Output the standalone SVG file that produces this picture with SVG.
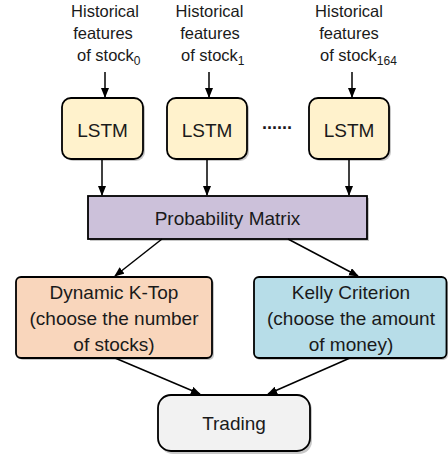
<svg xmlns="http://www.w3.org/2000/svg" width="448" height="455" viewBox="0 0 448 455">
<style>
text{font-family:"Liberation Sans",Arial,sans-serif;fill:#1a1a1a}
.in{font-size:16.5px}
.lbl{font-size:19px;text-anchor:middle}
.box{stroke:#000;stroke-width:1.8}
.shd{fill:#9a9a9a;opacity:0.55}
.con{stroke:#000;stroke-width:1.5;fill:none;marker-end:url(#ah)}
</style>
<defs>
<marker id="ah" markerWidth="10" markerHeight="8" refX="9" refY="4" orient="auto" markerUnits="userSpaceOnUse">
<path d="M0,0 L10,4 L0,8 Z" fill="#000"/>
</marker>
</defs>
<rect width="448" height="455" fill="#fff"/>
<g id="in0" class="in">
<text x="105" y="17" text-anchor="middle">Historical</text>
<text x="103" y="39" text-anchor="middle">features</text>
<text x="77" y="61">of stock<tspan font-size="12" dy="4">0</tspan></text>
</g>
<g id="in1" class="in">
<text x="209.5" y="17" text-anchor="middle">Historical</text>
<text x="210" y="39" text-anchor="middle">features</text>
<text x="181" y="61">of stock<tspan font-size="12" dy="4">1</tspan></text>
</g>
<g id="in2" class="in">
<text x="349" y="17" text-anchor="middle">Historical</text>
<text x="349" y="39" text-anchor="middle">features</text>
<text x="320" y="61">of stock<tspan font-size="12" dy="4">164</tspan></text>
</g>
<g id="lstm0">
<rect class="shd" x="64" y="100" width="81" height="61" rx="9"/>
<rect class="box" x="62" y="98" width="81" height="61" rx="9" fill="#FFF2CC"/>
<text class="lbl" x="102.5" y="137">LSTM</text>
</g>
<g id="lstm1">
<rect class="shd" x="169" y="100" width="80" height="61" rx="9"/>
<rect class="box" x="167" y="98" width="80" height="61" rx="9" fill="#FFF2CC"/>
<text class="lbl" x="207" y="137">LSTM</text>
</g>
<text x="277" y="134" font-size="18" text-anchor="middle" font-weight="bold" letter-spacing="-1">······</text>
<g id="lstm2">
<rect class="shd" x="311" y="100" width="80" height="61" rx="9"/>
<rect class="box" x="309" y="98" width="80" height="61" rx="9" fill="#FFF2CC"/>
<text class="lbl" x="349" y="137">LSTM</text>
</g>
<g id="prob">
<rect class="shd" x="90" y="198" width="279" height="43"/>
<rect class="box" x="88" y="196" width="279" height="43" fill="#CCC1DA"/>
<text class="lbl" x="227.5" y="225" font-size="20.5">Probability Matrix</text>
</g>
<g id="ktop">
<rect class="shd" x="18" y="279" width="196" height="81" rx="5"/>
<rect class="box" x="16" y="277" width="196" height="81" rx="5" fill="#F9D6BC"/>
<text class="lbl" x="114" y="299" font-size="20.5">Dynamic K-Top</text>
<text class="lbl" x="114" y="325" font-size="20.5">(choose the number</text>
<text class="lbl" x="114" y="351" font-size="20.5">of stocks)</text>
</g>
<g id="kelly">
<rect class="shd" x="255" y="279" width="193" height="81" rx="5"/>
<rect class="box" x="254" y="277" width="192.5" height="81" rx="5" fill="#B7DDE8"/>
<text class="lbl" x="351" y="299" font-size="20.5">Kelly Criterion</text>
<text class="lbl" x="351" y="325" font-size="20.5">(choose the amount</text>
<text class="lbl" x="351" y="351" font-size="20.5">of money)</text>
</g>
<g id="trading">
<rect class="shd" x="160" y="397" width="152" height="57" rx="13"/>
<rect class="box" x="158" y="395" width="152" height="56" rx="13" fill="#F2F2F2"/>
<text class="lbl" x="234" y="430" font-size="20">Trading</text>
</g>
<g id="connectors">
<line class="con" x1="105" y1="72" x2="105" y2="97"/>
<line class="con" x1="209" y1="72" x2="209" y2="97"/>
<line class="con" x1="352" y1="72" x2="352" y2="97"/>
<line class="con" x1="102" y1="159" x2="102" y2="195"/>
<line class="con" x1="207" y1="159" x2="207" y2="195"/>
<line class="con" x1="349" y1="159" x2="349" y2="195"/>
<line class="con" x1="162" y1="239" x2="115" y2="276"/>
<line class="con" x1="288" y1="239" x2="358" y2="276"/>
<line class="con" x1="115" y1="358" x2="200" y2="394"/>
<line class="con" x1="350" y1="358" x2="268" y2="394"/>
</g>
</svg>
